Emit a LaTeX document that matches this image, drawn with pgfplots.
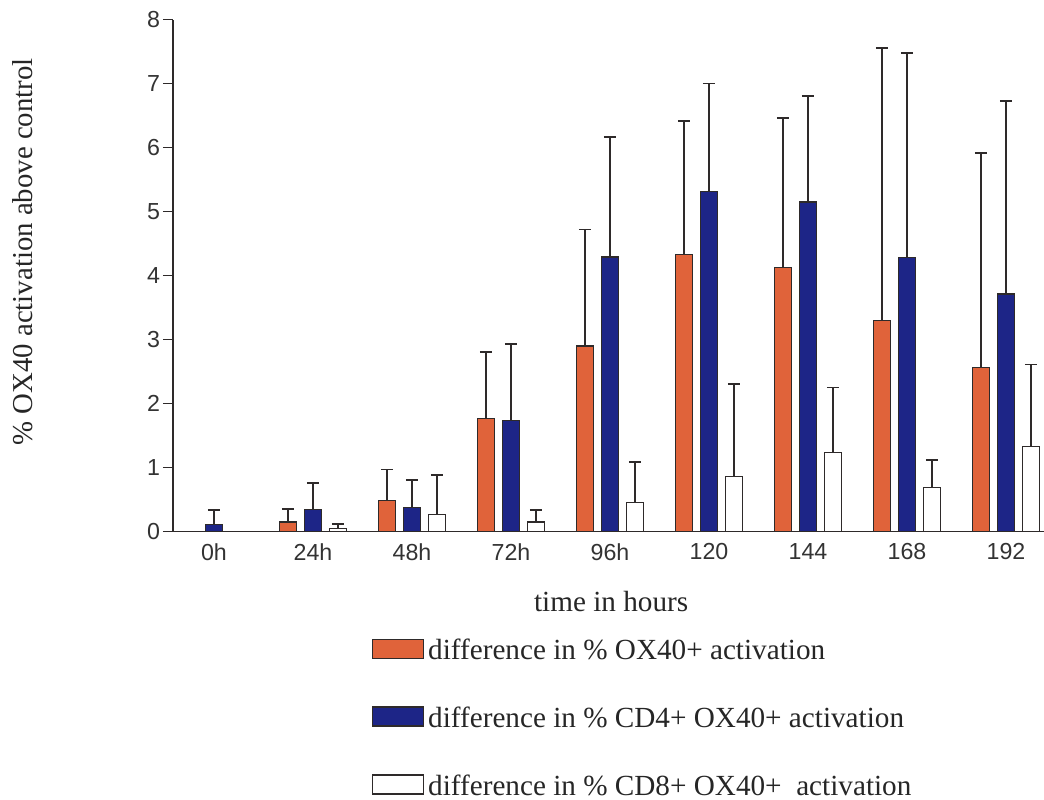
\documentclass[border=0pt]{standalone}
\usepackage{fontspec}
\setmainfont{Liberation Serif}
\newfontfamily\sansf{Liberation Sans}
\usepackage{pgfplots}
\usepackage{pgfplotstable}
\pgfplotsset{compat=1.18}

\definecolor{oxorange}{HTML}{E0633A}
\definecolor{cdblue}{HTML}{1D2587}
\definecolor{edge}{HTML}{2E2A2A}

% mean and upper error (plus direction only)
\pgfplotstableread{
x y err
1 0.15 0.20
2 0.48 0.49
3 1.77 1.03
4 2.90 1.82
5 4.33 2.08
6 4.13 2.33
7 3.30 4.25
8 2.56 3.35
}\ovx

\pgfplotstableread{
x y err
0 0.11 0.23
1 0.35 0.41
2 0.38 0.42
3 1.73 1.20
4 4.29 1.87
5 5.31 1.69
6 5.15 1.65
7 4.28 3.20
8 3.71 3.02
}\cdfour

\pgfplotstableread{
x y err
1 0.05 0.07
2 0.27 0.61
3 0.15 0.19
4 0.45 0.64
5 0.86 1.44
6 1.24 1.01
7 0.69 0.43
8 1.33 1.28
}\cdeight

\begin{document}
\begin{tikzpicture}
\path[use as bounding box] (-86.5pt,-133.75pt) rectangle (435.5pt,265.75pt);
\begin{axis}[
  scale only axis,
  width=435.5pt, height=256pt,
  xmin=-0.414, xmax=8.384,
  ymin=0, ymax=8,
  axis lines*=left,
  axis line style={edge, line width=0.9pt},
  ybar=3.75pt, bar width=8.75pt,
  xtick={0,...,8},
  xticklabels={0h,24h,48h,72h,96h,120,144,168,192},
  x tick style={draw=none},
  ytick={0,...,8},
  y tick style={edge, line width=0.8pt},
  tick align=outside,
  major tick length=5pt,
  /pgf/number format/assume math mode=true,
  tick label style={font=\sansf\fontsize{11.6}{13}\selectfont, text=black!80},
  xticklabel style={yshift=2.5pt},
  yticklabel style={xshift=2pt},
  xlabel={time in hours},
  xlabel style={at={(axis description cs:0.503,-0.136)}, anchor=center, font=\fontsize{14.6}{16}\selectfont, text=black!85},
  ylabel={\% OX40 activation above control},
  ylabel style={at={(axis description cs:-0.172,0.546)}, anchor=center, font=\fontsize{14.4}{16}\selectfont, text=black!85},
  legend style={at={(axis description cs:0.228,-0.202)}, anchor=north west,
    draw=none, fill=none, row sep=18.2pt, inner sep=0pt,
    font=\fontsize{14.6}{16}\selectfont, text=black!85},
  legend cell align=left,
  legend image code/.code={\draw[#1] (0pt,-3.5pt) rectangle (25.5pt,6pt);},
  error bars/y dir=plus,
  error bars/y explicit,
  error bars/error bar style={edge, line width=0.9pt},
  error bars/error mark options={edge, line width=0.9pt, mark size=3pt, rotate=90},
]
\addplot[fill=oxorange, draw=edge, line width=0.6pt]
  table[x=x, y=y, y error=err] {\ovx};
\addlegendentry{difference in \% OX40+ activation}
\addplot[fill=cdblue, draw=edge, line width=0.6pt]
  table[x=x, y=y, y error=err] {\cdfour};
\addlegendentry{difference in \% CD4+ OX40+ activation}
\addplot[fill=white, draw=edge, line width=0.6pt]
  table[x=x, y=y, y error=err] {\cdeight};
\addlegendentry{difference in \% CD8+ OX40+\ \ activation}
\end{axis}
\end{tikzpicture}
\end{document}
